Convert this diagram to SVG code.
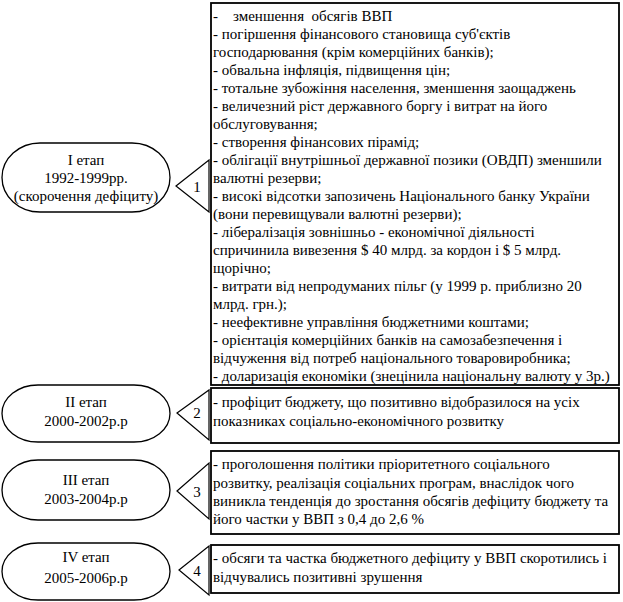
<svg xmlns="http://www.w3.org/2000/svg" width="623" height="602" viewBox="0 0 623 602">
<style>
.t{font-family:'Liberation Serif','Times New Roman','DejaVu Serif',serif;font-size:15px;fill:#000;white-space:pre}
.c{text-anchor:middle}
.box{fill:#fff;stroke:#000;stroke-width:1.8}
.oval{fill:#fff;stroke:#000;stroke-width:1.3}
.tri{fill:#fff;stroke:#000;stroke-width:1.2}
</style>
<rect width="623" height="602" fill="#fff"/>
<g id="stage1">
<rect class="oval" x="2" y="143" width="168" height="69" rx="38" ry="34.5"/>
<text class="t c" x="86" y="165">I етап</text>
<text class="t c" x="86" y="183">1992-1999рр.</text>
<text class="t c" x="86" y="201">(скорочення дефіциту)</text>
</g>
<g id="stage2">
<rect class="oval" x="2" y="385" width="168" height="57" rx="36" ry="28.5"/>
<text class="t c" x="86" y="407">II етап</text>
<text class="t c" x="86" y="426">2000-2002р.р</text>
</g>
<g id="stage3">
<rect class="oval" x="2" y="460" width="168" height="60" rx="36" ry="30"/>
<text class="t c" x="86" y="485">III етап</text>
<text class="t c" x="86" y="504">2003-2004р.р</text>
</g>
<g id="stage4">
<rect class="oval" x="2" y="543" width="168" height="57" rx="36" ry="28.5"/>
<text class="t c" x="86" y="562">IV етап</text>
<text class="t c" x="86" y="583">2005-2006р.р</text>
</g>
<g id="connectors">
<polygon class="tri" points="176,186 209,160 209,212"/>
<text class="t c" x="197" y="192">1</text>
<polygon class="tri" points="177,413 209,390 209,440"/>
<text class="t c" x="197" y="418">2</text>
<polygon class="tri" points="177,491 209,463 209,519"/>
<text class="t c" x="197" y="497">3</text>
<polygon class="tri" points="179,570 209,546 209,595"/>
<text class="t c" x="197" y="576">4</text>
</g>
<g id="box1">
<rect class="box" x="211" y="3" width="408" height="382"/>
<text class="t" x="213" y="21">-    зменшення  обсягів ВВП</text>
<text class="t" x="213" y="39">- погіршення фінансового становища суб'єктів</text>
<text class="t" x="213" y="57">господарювання (крім комерційних банків);</text>
<text class="t" x="213" y="75">- обвальна інфляція, підвищення цін;</text>
<text class="t" x="213" y="93">- тотальне зубожіння населення, зменшення заощаджень</text>
<text class="t" x="213" y="111">- величезний ріст державного боргу і витрат на його</text>
<text class="t" x="213" y="129">обслуговування;</text>
<text class="t" x="213" y="147">- створення фінансових пірамід;</text>
<text class="t" x="213" y="165">- облігації внутрішньої державної позики (ОВДП) зменшили</text>
<text class="t" x="213" y="183">валютні резерви;</text>
<text class="t" x="213" y="201">- високі відсотки запозичень Національного банку України</text>
<text class="t" x="213" y="219">(вони перевищували валютні резерви);</text>
<text class="t" x="213" y="237">- лібералізація зовнішньо - економічної діяльності</text>
<text class="t" x="213" y="255">спричинила вивезення $ 40 млрд. за кордон і $ 5 млрд.</text>
<text class="t" x="213" y="273">щорічно;</text>
<text class="t" x="213" y="291">- витрати від непродуманих пільг (у 1999 р. приблизно 20</text>
<text class="t" x="213" y="309">млрд. грн.);</text>
<text class="t" x="213" y="327">- неефективне управління бюджетними коштами;</text>
<text class="t" x="213" y="345">- орієнтація комерційних банків на самозабезпечення і</text>
<text class="t" x="213" y="363">відчуження від потреб національного товаровиробника;</text>
<text class="t" x="213" y="381">- доларизація економіки (знецінила національну валюту у 3р.)</text>
</g>
<g id="box2">
<rect class="box" x="211" y="388" width="408" height="55"/>
<text class="t" x="213" y="407">- профіцит бюджету, що позитивно відобразилося на усіх</text>
<text class="t" x="213" y="426">показниках соціально-економічного розвитку</text>
</g>
<g id="box3">
<rect class="box" x="211" y="451" width="408" height="83"/>
<text class="t" x="213" y="469">- проголошення політики пріоритетного соціального</text>
<text class="t" x="213" y="488">розвитку, реалізація соціальних програм, внаслідок чого</text>
<text class="t" x="213" y="506">виникла тенденція до зростання обсягів дефіциту бюджету та</text>
<text class="t" x="213" y="524">його частки у ВВП з 0,4 до 2,6 %</text>
</g>
<g id="box4">
<rect class="box" x="211" y="545" width="408" height="48"/>
<text class="t" x="213" y="563">- обсяги та частка бюджетного дефіциту у ВВП скоротились і</text>
<text class="t" x="213" y="582">відчувались позитивні зрушення</text>
</g>
</svg>
